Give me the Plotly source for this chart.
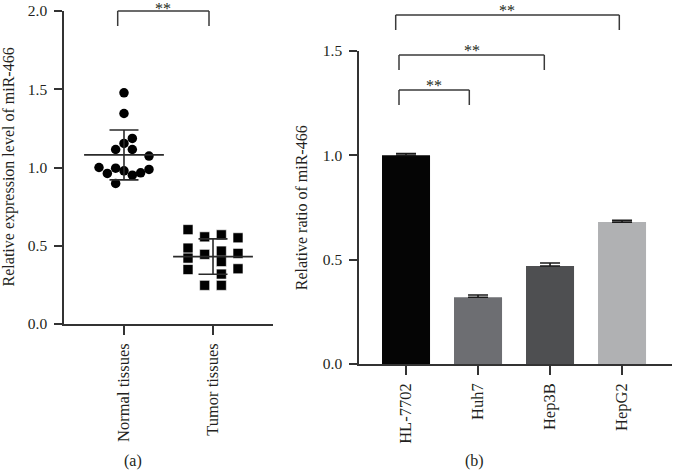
import numpy as np
import plotly.graph_objects as go

# ---------------- data ----------------
groups_a = ["Normal tissues", "Tumor tissues"]
normal_values = [1.477, 1.345, 1.186, 1.154, 1.115, 1.115, 1.073, 1.000,
                 0.962, 0.996, 0.979, 0.951, 0.966, 0.988, 0.898]
tumor_values = [0.603, 0.485, 0.421, 0.348, 0.557, 0.445, 0.247,
                0.570, 0.466, 0.399, 0.319, 0.247, 0.551, 0.451, 0.353]

cell_lines = ["HL-7702", "Huh7", "Hep3B", "HepG2"]
ratio_values = [1.00, 0.32, 0.47, 0.68]
ratio_errors = [0.009, 0.011, 0.014, 0.009]
bar_colors = ["#050505", "#6d6e72", "#4e4f51", "#b0b1b3"]

ytick_a = [0.0, 0.5, 1.0, 1.5, 2.0]
ytick_b = [0.0, 0.5, 1.0, 1.5]

# beeswarm slot layout (column index within each group, in marker widths)
normal_slots = [0, 0, 1, 0, -1, 1, 3, -3, -2, -1, 0, 1, 2, 3, -1]
tumor_slots = [-3, -3, -3, -3, -1, -1, -1, 1, 1, 1, 1, 1, 3, 3, 3]

# ---------------- layout helpers ----------------
W, H = 673, 470
FONT = "Liberation Serif"
TXT = "#231f20"
AX = "#333333"


def px_x(px):
    return px / W


def px_y(py):
    return 1 - py / H


slot_w = 8.33 / 89.0  # slot width in x-units of panel (a)

fig = go.Figure()

# ---- panel (a): scatter dots ----
nx = [0 + s * slot_w for s in normal_slots]
tx = [1 + s * slot_w for s in tumor_slots]
fig.add_trace(go.Scatter(x=nx, y=normal_values, mode="markers",
                         marker=dict(symbol="circle", size=9.5, color="#000000"),
                         xaxis="x", yaxis="y", showlegend=False, cliponaxis=False))
fig.add_trace(go.Scatter(x=tx, y=tumor_values, mode="markers",
                         marker=dict(symbol="square", size=10, color="#000000",
                                     line=dict(width=0.6, color="#ffffff")),
                         xaxis="x", yaxis="y", showlegend=False, cliponaxis=False))

# mean +/- SD
means = [float(np.mean(normal_values)), float(np.mean(tumor_values))]
sds = [float(np.std(normal_values, ddof=1)), float(np.std(tumor_values, ddof=1))]
fig.add_trace(go.Scatter(x=[0, 1], y=means, mode="markers",
                         marker=dict(symbol="line-ew", size=57,
                                     line=dict(width=1.8, color="#2a2a2a")),
                         error_y=dict(type="data", array=sds, visible=True,
                                      width=14.5, thickness=1.6, color="#2a2a2a"),
                         xaxis="x", yaxis="y", showlegend=False, cliponaxis=False))

# ---- panel (b): bars ----
fig.add_trace(go.Bar(x=cell_lines, y=ratio_values, width=0.667,
                     marker=dict(color=bar_colors, line=dict(width=0)),
                     error_y=dict(type="data", array=ratio_errors,
                                  arrayminus=[0] * len(ratio_errors), symmetric=False,
                                  visible=True, width=10, thickness=1.6, color="#1a1a1a"),
                     xaxis="x2", yaxis="y2", showlegend=False))

ytickfont = dict(family=FONT, size=15.5, color=TXT)
xtickfont = dict(family=FONT, size=16.5, color=TXT)
common = dict(ticks="outside", tickwidth=1.5, tickcolor=AX,
              showline=True, linecolor=AX, linewidth=1.5,
              showgrid=False, zeroline=False, automargin=False)

fig.update_layout(
    template="none",
    width=W, height=H, autosize=False,
    margin=dict(l=0, r=0, t=0, b=0, pad=0),
    paper_bgcolor="white", plot_bgcolor="white",
    font=dict(family=FONT, color=TXT),
    xaxis=dict(domain=[px_x(64), px_x(273)], range=[-0.674, 1.674],
               tickvals=[0, 1], ticktext=groups_a, tickangle=-90,
               ticklen=9, ticklabelstandoff=2, tickfont=xtickfont,
               anchor="y", **common),
    yaxis=dict(domain=[px_y(324), px_y(11)], range=[0, 2],
               tickvals=ytick_a, tickformat=".1f", tickfont=ytickfont,
               ticklen=8, ticklabelstandoff=4, anchor="x", **common),
    xaxis2=dict(domain=[px_x(359), px_x(672)], range=[-0.653, 3.694],
                type="category", tickangle=-90, tickfont=xtickfont,
                ticklen=9, ticklabelstandoff=2, anchor="y2", **common),
    yaxis2=dict(domain=[px_y(364), px_y(51)], range=[0, 1.5],
                tickvals=ytick_b, tickformat=".1f", tickfont=ytickfont,
                ticklen=8, ticklabelstandoff=4, anchor="x2", **common),
)

annots = []
shapes = []


def bracket(x0, x1, ytop, ybot, star_x, star_y):
    pts = [(x0, ybot), (x0, ytop), (x1, ytop), (x1, ybot)]
    for (a, b), (c, d) in zip(pts[:-1], pts[1:]):
        shapes.append(dict(type="line", xref="paper", yref="paper",
                           x0=px_x(a), y0=px_y(b), x1=px_x(c), y1=px_y(d),
                           line=dict(color="#3a3a3a", width=1.5)))
    annots.append(dict(text="**", x=px_x(star_x), y=px_y(star_y + 3),
                       xref="paper", yref="paper", showarrow=False,
                       xanchor="center", yanchor="middle",
                       font=dict(family=FONT, size=16, color=TXT)))


bracket(117.7, 209, 11, 26, 163, 6)
bracket(395.7, 619.3, 15, 30, 506.7, 7)
bracket(399, 544.3, 55, 70, 471.7, 47.7)
bracket(399, 469.3, 90, 105, 434, 83)

# axis titles
annots.append(dict(text="Relative expression level of miR-466", x=px_x(9), y=px_y(167.4),
                   xref="paper", yref="paper", showarrow=False, textangle=-90,
                   xanchor="center", yanchor="middle",
                   font=dict(family=FONT, size=16, color=TXT)))
annots.append(dict(text="Relative ratio of miR-466", x=px_x(301.7), y=px_y(207.5),
                   xref="paper", yref="paper", showarrow=False, textangle=-90,
                   xanchor="center", yanchor="middle",
                   font=dict(family=FONT, size=16, color=TXT)))
# panel labels
annots.append(dict(text="(a)", x=px_x(132.7), y=px_y(461), xref="paper", yref="paper",
                   showarrow=False, xanchor="center", yanchor="middle",
                   font=dict(family=FONT, size=16, color=TXT)))
annots.append(dict(text="(b)", x=px_x(474), y=px_y(461), xref="paper", yref="paper",
                   showarrow=False, xanchor="center", yanchor="middle",
                   font=dict(family=FONT, size=16, color=TXT)))

fig.update_layout(annotations=annots, shapes=shapes)

fig.write_html("out.html", config={"displayModeBar": False},
               include_plotlyjs=True, full_html=True,
               post_script="document.body.style.margin='0';")
